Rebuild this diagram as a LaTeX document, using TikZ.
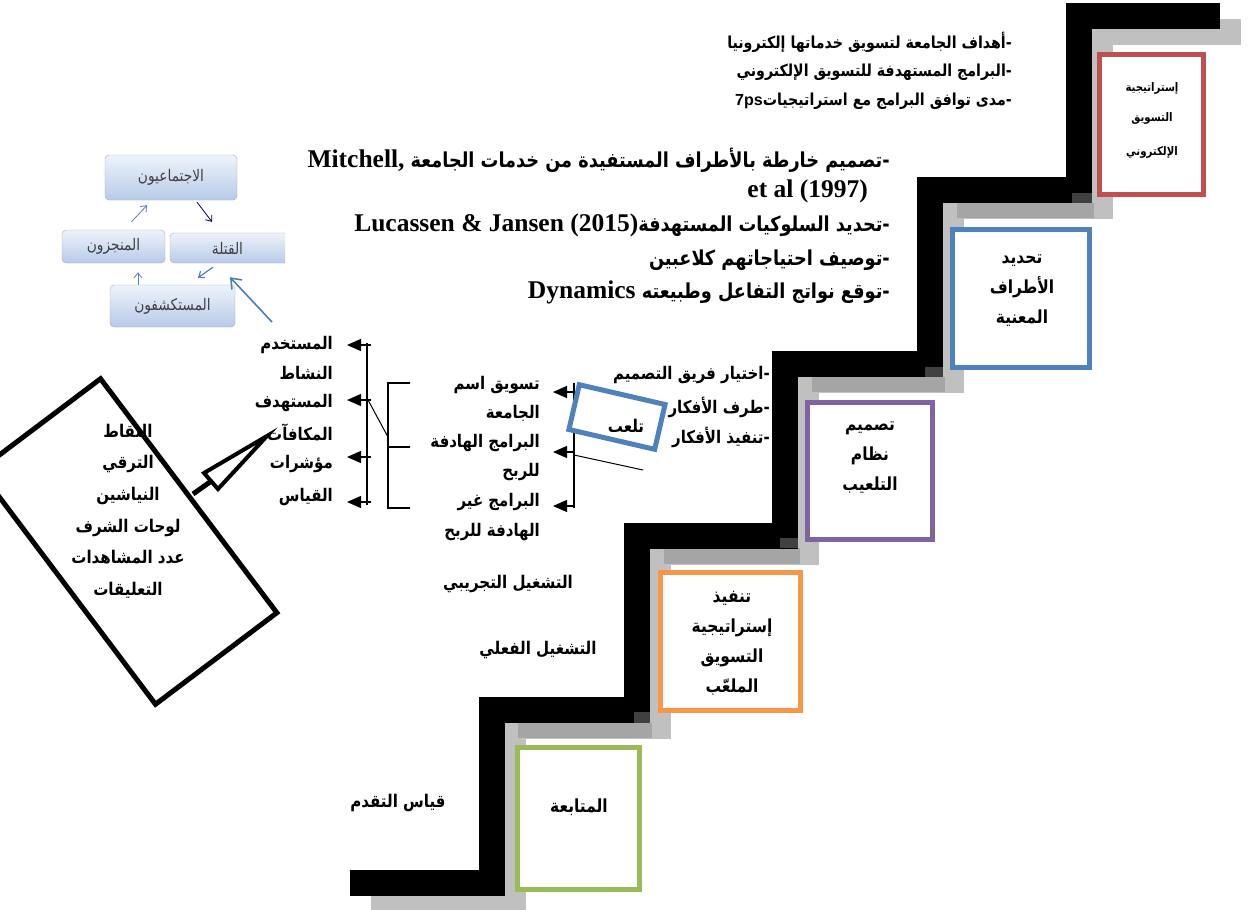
\documentclass[tikz,border=0pt]{standalone}
\usepackage{fontspec}
\usetikzlibrary{arrows.meta}
\TeXXeTstate=1
\newfontfamily\ar[Script=Arabic, FakeStretch=0.86]{DejaVu Sans}
\newfontfamily\tnr{Liberation Serif}
\newfontfamily\lsans{Liberation Sans}
\newcommand\RL[1]{\beginR#1\endR}
\newcommand\LR[1]{\beginL#1\endL}
\newcommand\D{-\kern0pt}
\newcommand\lat[1]{{\tnr\bfseries\fontsize{25.5}{28}\selectfont\LR{#1}}}
\definecolor{stairL}{HTML}{C0C0C0}
\definecolor{stairD}{HTML}{A5A5A5}
\definecolor{stairK}{HTML}{404040}
\definecolor{bRed}{HTML}{C0504D}
\definecolor{bBlue}{HTML}{4F81BD}
\definecolor{bPurple}{HTML}{8064A2}
\definecolor{bOrange}{HTML}{F79646}
\definecolor{bGreen}{HTML}{9BBB59}
\definecolor{cTop}{HTML}{EEF3FB}
\definecolor{cBot}{HTML}{B7CBE8}
\definecolor{cArr}{HTML}{5B7DB8}
\definecolor{bigArr}{HTML}{4A7EBB}
\tikzset{
  stepbox/.style={draw, line width=5pt, fill=white, inner sep=0pt},
  boxtxt/.style={font=\ar\bfseries\fontsize{18}{30}\selectfont, align=center, inner sep=0pt},
  toptxt/.style={font=\ar\bfseries\fontsize{16.5}{18}\selectfont, anchor=east, inner sep=0pt},
  midtxt/.style={font=\ar\bfseries\fontsize{20.6}{24}\selectfont, anchor=east, inner sep=0pt},
  listtxt/.style={font=\ar\bfseries\fontsize{17.4}{20}\selectfont, anchor=east, inner sep=0pt},
  freetxt/.style={font=\ar\bfseries\fontsize{17.5}{20}\selectfont, inner sep=0pt},
  larrow/.style={-{Triangle[length=14pt,width=12pt]}, line width=1.3pt},
  ptype/.style={draw=gray!65, rounded corners=4pt, top color=cTop, bottom color=cBot,
    font=\ar\fontsize{16}{18}\selectfont, text=black!75, inner sep=0pt},
  carr/.style={-{Straight Barb[length=5pt,width=8pt]}, line width=0.8pt, draw=cArr}
}
\begin{document}
\begin{tikzpicture}[x=1pt,y=-1pt]
\useasboundingbox (0,0) rectangle (1248,910);
\fill[white] (0,0) rectangle (1248,910);
% ---------- staircase ----------
\def\stairpath{(1220,15.5) -- (1078.5,15.5) -- (1078.5,190) -- (930,190) -- (930,363.5) -- (785,363.5) -- (785,535.5) -- (637,535.5) -- (637,710) -- (491.5,710) -- (491.5,883) -- (350,883)}
\draw[stairL, line width=26pt, shift={(21,16)}] \stairpath;
\fill[stairD] (957,203) rectangle (1094,218);
\fill[stairD] (812,377) rectangle (945,392);
\fill[stairD] (664,548) rectangle (800,564);
\fill[stairD] (518,723) rectangle (652,738);
\draw[black, line width=26pt] \stairpath;
\fill[stairK] (1072,193) rectangle (1092,203);
\fill[stairK] (925,367) rectangle (943,377);
\fill[stairK] (780,538) rectangle (798,548);
\fill[stairK] (634,712) rectangle (650,723);
% ---------- step boxes ----------
\node[stepbox, draw=bRed, minimum width=104pt, minimum height=140pt] (sRed) at (1151.5,124.5) {};
\node[font=\ar\bfseries\fontsize{11.8}{14}\selectfont, inner sep=0pt] (sRedA) at (1152,88) {\RL{إستراتيجية}};
\node[font=\ar\bfseries\fontsize{11.8}{14}\selectfont, inner sep=0pt] (sRedB) at (1152,118) {\RL{التسويق}};
\node[font=\ar\bfseries\fontsize{11.8}{14}\selectfont, inner sep=0pt] (sRedC) at (1152,152) {\RL{الإلكتروني}};
\node[stepbox, draw=bBlue, minimum width=137pt, minimum height=138pt] (sBlue) at (1021,298.5) {};
\node[boxtxt] (sBlueT) at (1022,291) {\RL{تحديد}\\\RL{الأطراف}\\\RL{المعنية}};
\node[stepbox, draw=bPurple, minimum width=125pt, minimum height=137pt] (sPurple) at (870,471) {};
\node[boxtxt] (sPurpleT) at (870,458) {\RL{تصميم}\\\RL{نظام}\\\RL{التلعيب}};
\node[stepbox, draw=bOrange, minimum width=140pt, minimum height=138pt] (sOrange) at (730.5,641.5) {};
\node[boxtxt] (sOrangeT) at (732,643) {\RL{تنفيذ}\\\RL{إستراتيجية}\\\RL{التسويق}\\\RL{الملعّب}};
\node[stepbox, draw=bGreen, minimum width=122pt, minimum height=142pt] (sGreen) at (578.5,818.5) {};
\node[boxtxt] (sGreenT) at (579,807) {\RL{المتابعة}};
% ---------- top text ----------
\node[toptxt] (g1) at (1012,42) {\RL{\D أهداف الجامعة لتسويق خدماتها إلكترونيا}};
\node[toptxt] (g2) at (1012,72) {\RL{\D البرامج المستهدفة للتسويق الإلكتروني}};
\node[toptxt] (g3) at (1012,101) {\RL{\D مدى توافق البرامج مع استراتيجيات{\lsans\bfseries\fontsize{16}{18}\selectfont\LR{7ps}}}};
% ---------- middle text ----------
\node[midtxt] (m1) at (890,160) {\RL{\D تصميم خارطة بالأطراف المستفيدة من خدمات الجامعة \lat{Mitchell,}}};
\node[midtxt, font=\tnr\bfseries\fontsize{25.5}{28}\selectfont] (m2) at (868,191) {et al (1997)};
\node[midtxt] (m3) at (890,225) {\RL{\D تحديد السلوكيات المستهدفة\lat{Lucassen \& Jansen (2015)}}};
\node[midtxt] (m4) at (890,260) {\RL{\D توصيف احتياجاتهم كلاعبين}};
\node[midtxt] (m5) at (890,292) {\RL{\D توقع نواتج التفاعل وطبيعته \lat{Dynamics}}};
% ---------- design team list ----------
\node[listtxt] (d1) at (770,375) {\RL{\D اختيار فريق التصميم}};
\node[listtxt] (d2) at (770,407) {\RL{\D طرف الأفكار}};
\node[listtxt] (d3) at (770,437) {\RL{\D تنفيذ الأفكار}};
% ---------- middle list ----------
\node[listtxt] (p1) at (540,385) {\RL{تسويق اسم}};
\node[listtxt] (p2) at (540,413) {\RL{الجامعة}};
\node[listtxt] (p3) at (540,443) {\RL{البرامج الهادفة}};
\node[listtxt] (p4) at (540,472) {\RL{للربح}};
\node[listtxt] (p5) at (540,502) {\RL{البرامج غير}};
\node[listtxt] (p6) at (540,532) {\RL{الهادفة للربح}};
% ---------- left list ----------
\node[listtxt] (q1) at (333,345) {\RL{المستخدم}};
\node[listtxt] (q2) at (333,373) {\RL{النشاط}};
\node[listtxt] (q3) at (333,403) {\RL{المستهدف}};
\node[listtxt] (q4) at (333,432) {\RL{المكافآت}};
\node[listtxt] (q5) at (333,464) {\RL{مؤشرات}};
\node[listtxt] (q6) at (333,497) {\RL{القياس}};
% ---------- free texts ----------
\node[freetxt] (r1) at (508,584) {\RL{التشغيل التجريبي}};
\node[freetxt] (r2) at (538,650) {\RL{التشغيل الفعلي}};
\node[freetxt] (r3) at (398,803) {\RL{قياس التقدم}};
% ---------- brackets ----------
\coordinate (mbT) at (574,383);
\coordinate (mbB) at (574,508);
\draw[line width=1.3pt] (mbT) -- (mbB);
\draw[larrow] (574,392) -- ([xshift=13pt]p1.east |- 0,392);
\draw[larrow] (574,452) -- ([xshift=13pt]p3.east |- 0,452);
\draw[larrow] (574,506) -- ([xshift=13pt]p5.east |- 0,506);
\coordinate (tail) at (643,470);
\draw[line width=1pt] (574,455) -- (tail);
\draw[line width=1.3pt] (410,383) -- (388,383) -- (388,508) -- (410,508);
\draw[line width=1.3pt] (388,447) -- (410,447);
\draw[line width=1pt] (368,400) -- (388,437);
\draw[line width=1.3pt] (367,343) -- (367,505);
\draw[larrow] (371,345) -- ([xshift=14pt]q1.east |- 0,345);
\draw[larrow] (371,400) -- ([xshift=14pt]q3.east |- 0,400);
\draw[larrow] (371,457) -- ([xshift=14pt]q5.east |- 0,457);
\draw[larrow] (371,502) -- ([xshift=14pt]q6.east |- 0,502);
% ---------- rotated small box ----------
\node[draw=bBlue, line width=5pt, fill=white, minimum width=88pt, minimum height=46pt, rotate=-13] (tl) at (617,417) {};
\begin{scope}
\clip (590,395) rectangle (665,431);
\node[freetxt, anchor=base] (tlT) at (626,432) {\RL{تلعب}};
\end{scope}
% ---------- callout ----------
\node[draw, line width=5pt, fill=white, minimum width=293pt, minimum height=152pt, rotate=-53, inner sep=0pt] (co) at (128,541.5) {};
\node[font=\ar\bfseries\fontsize{17.5}{31.6}\selectfont, align=center, inner sep=0pt] (coT) at (128,511)
 {\RL{النقاط}\\\RL{الترقي}\\\RL{النياشين}\\\RL{لوحات الشرف}\\\RL{عدد المشاهدات}\\\RL{التعليقات}};
\draw[line width=5pt] (193,494) -- (210,482);
\draw[line width=4pt, fill=white, line join=miter] (204,473) -- (218,489) -- (267,436) -- cycle;
% ---------- player types cluster ----------
\begin{scope}
\clip (0,140) rectangle (285,340);
\node[ptype, minimum width=132pt, minimum height=45pt] (soc) at (171,177.5) {\RL{الاجتماعيون}};
\node[ptype, minimum width=103pt, minimum height=33pt] (ach) at (113.5,246.5) {\RL{المنجزون}};
\node[ptype, minimum width=130pt, minimum height=30pt] (kil) at (235,248) {\hspace*{-15pt}\RL{القتلة}};
\node[ptype, minimum width=125pt, minimum height=42pt] (exp) at (172.5,306) {\RL{المستكشفون}};
\end{scope}
\draw[carr] ([shift={(18,-8)}]ach.north) -- ([shift={(-24,5)}]soc.south);
\draw[carr, draw=black!70!blue] ([shift={(26,2)}]soc.south) -- ([shift={(-23,-11)}]kil.north);
\draw[carr, line width=1.2pt] ([shift={(-22,4)}]kil.south) -- ([shift={(25.5,-7)}]exp.north);
\draw[carr] ([shift={(-34.5,0)}]exp.north) -- ([shift={(24.5,9)}]ach.south);
\coordinate (bigS) at (272,322);
\draw[-{Straight Barb[length=9pt,width=14pt]}, line width=1.6pt, draw=bigArr] (bigS) -- ([shift={(-5,14)}]kil.south);
\end{tikzpicture}
\end{document}
